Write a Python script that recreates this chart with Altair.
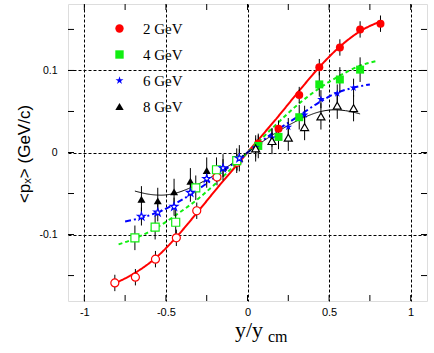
import altair as alt
import pandas as pd

# ---------------- data ----------------
series = ["2 GeV", "4 GeV", "6 GeV", "8 GeV"]
colors = ["#ff0000", "#11ee11", "#0000ff", "#000000"]
STAR = ("M0,-1L0.2245,-0.309L0.951,-0.309L0.363,0.118L0.588,0.809L0,0.382"
        "L-0.588,0.809L-0.363,0.118L-0.951,-0.309L-0.2245,-0.309Z")
shapes = ["circle", "square", STAR, "triangle-up"]

# 2 GeV (filled: measured side, open: reflected side)
x2_f = [0.066, 0.19, 0.317, 0.44, 0.566, 0.69, 0.815]
y2_f = [0.011, 0.029, 0.070, 0.104, 0.128, 0.150, 0.157]
x2_o = [-0.064, -0.187, -0.311, -0.436, -0.564, -0.687, -0.813]
y2_o = [-0.012, -0.030, -0.071, -0.104, -0.130, -0.152, -0.159]
e2 = 0.010

# 4 GeV
x4_f = [0.066, 0.19, 0.317, 0.44, 0.566, 0.69]
y4_f = [0.008, 0.019, 0.043, 0.083, 0.089, 0.101]
x4_o = [-0.066, -0.19, -0.317, -0.44, -0.566, -0.69]
y4_o = [-0.010, -0.021, -0.043, -0.085, -0.091, -0.104]
e4 = 0.015

# 6 GeV
x6_f = [0.05, 0.15, 0.25, 0.35, 0.45, 0.55, 0.65]
y6_f = [0.006, 0.018, 0.031, 0.046, 0.065, 0.072, 0.079]
x6_o = [-0.05, -0.15, -0.25, -0.35, -0.45, -0.55, -0.65]
y6_o = [-0.007, -0.019, -0.032, -0.049, -0.066, -0.073, -0.078]
e6 = 0.011

# 8 GeV (filled on the negative side)
x8_f = [-0.05, -0.15, -0.25, -0.35, -0.45, -0.55, -0.65]
y8_f = [-0.007, -0.018, -0.022, -0.035, -0.048, -0.059, -0.057]
x8_o = [0.05, 0.15, 0.25, 0.35, 0.45, 0.55, 0.65]
y8_o = [0.005, 0.014, 0.018, 0.031, 0.044, 0.057, 0.054]
e8 = 0.016

# fit curves
lx2 = [-0.82, -0.70, -0.56, -0.44, -0.32, -0.18, -0.06, 0, 0.06, 0.18, 0.32, 0.44, 0.56, 0.70, 0.82]
ly2 = [-0.160, -0.148, -0.128, -0.104, -0.076, -0.042, -0.014, 0, 0.014, 0.042, 0.076, 0.104, 0.128, 0.149, 0.160]
lx4 = [-0.79, -0.68, -0.56, -0.43, -0.30, -0.18, 0, 0.18, 0.30, 0.43, 0.56, 0.68, 0.80]
ly4 = [-0.112, -0.104, -0.092, -0.075, -0.056, -0.035, 0, 0.035, 0.057, 0.077, 0.093, 0.105, 0.112]
lx6 = [-0.75, -0.64, -0.54, -0.43, -0.31, -0.15, 0, 0.15, 0.31, 0.43, 0.55, 0.65, 0.75]
ly6 = [-0.084, -0.079, -0.072, -0.061, -0.046, -0.023, 0, 0.023, 0.044, 0.060, 0.073, 0.079, 0.083]
lx8 = [-0.69, -0.60, -0.53, -0.45, -0.35, -0.25, -0.12, 0, 0.12, 0.25, 0.35, 0.45, 0.53, 0.60, 0.69]
ly8 = [-0.047, -0.051, -0.052, -0.050, -0.043, -0.033, -0.017, 0, 0.017, 0.033, 0.043, 0.050, 0.052, 0.051, 0.047]

x_major = [-1, -0.5, 0, 0.5, 1]
y_major = [-0.1, 0, 0.1]
x_minor = [-1, -0.75, -0.5, -0.25, 0, 0.25, 0.5, 0.75, 1]
y_minor = [-0.15, -0.1, -0.05, 0, 0.05, 0.1, 0.15]

# ---------------- tables ----------------
def pts(name, xf, yf, xo, yo, err):
    rows = []
    for x, y in zip(xf, yf):
        rows.append(dict(series=name, x=x, y=y, lo=y - err, hi=y + err, filled=True))
    for x, y in zip(xo, yo):
        rows.append(dict(series=name, x=x, y=y, lo=y - err, hi=y + err, filled=False))
    return rows

points = pd.DataFrame(
    pts("2 GeV", x2_f, y2_f, x2_o, y2_o, e2)
    + pts("4 GeV", x4_f, y4_f, x4_o, y4_o, e4)
    + pts("6 GeV", x6_f, y6_f, x6_o, y6_o, e6)
    + pts("8 GeV", x8_f, y8_f, x8_o, y8_o, e8)
)
filled_pts = points[points.filled]
open_pts = points[~points.filled]

W, H = 359, 297
xs = alt.Scale(domain=[-1.1, 1.1], nice=False, zero=False)
ys = alt.Scale(domain=[-0.181, 0.181], nice=False, zero=False)
col_scale = alt.Scale(domain=series, range=colors)
shp_scale = alt.Scale(domain=series, range=shapes)

x_axis = alt.Axis(values=x_major, labelExpr="datum.value + ''", grid=True,
                  gridDash=[3, 2], gridColor="#000", gridWidth=1, ticks=False,
                  domain=False, labelFont="Liberation Sans", labelFontSize=11,
                  labelPadding=5, labelColor="#000", title=None)
y_axis = alt.Axis(values=y_major, labelExpr="datum.value + ''", grid=True,
                  gridDash=[3, 2], gridColor="#000", gridWidth=1, ticks=False,
                  domain=False, labelFont="Liberation Sans", labelFontSize=10.5,
                  labelPadding=11, labelColor="#000", title=None)

X = alt.X("x:Q", scale=xs, axis=x_axis)
Y = alt.Y("y:Q", scale=ys, axis=y_axis)

# fit lines
line_specs = [
    (lx2, ly2, colors[0], [1, 0], 2),
    (lx4, ly4, colors[1], [4, 3], 2),
    (lx6, ly6, colors[2], [6, 3, 2, 3], 2),
    (lx8, ly8, colors[3], [1, 0], 1),
]
lines = []
for lx, ly, c, dash, w in line_specs:
    df = pd.DataFrame({"x": lx, "y": ly})
    lines.append(
        alt.Chart(df).mark_line(color=c, strokeDash=dash, strokeWidth=w, interpolate="monotone")
        .encode(x=alt.X("x:Q", scale=xs), y=alt.Y("y:Q", scale=ys))
    )

errbars = alt.Chart(points).mark_rule(color="#000", strokeWidth=1).encode(
    x=alt.X("x:Q", scale=xs), y=alt.Y("lo:Q", scale=ys), y2="hi:Q"
)

filled_layer = alt.Chart(filled_pts).mark_point(filled=True, opacity=1, size=64).encode(
    x=X, y=Y,
    color=alt.Color("series:N", scale=col_scale,
                    legend=alt.Legend(orient="none", legendX=44, legendY=17, title=None,
                                      labelFont="Liberation Serif", labelFontSize=15,
                                      labelColor="#000", symbolSize=70, rowPadding=10,
                                      labelOffset=16, padding=0, symbolStrokeWidth=0)),
    shape=alt.Shape("series:N", scale=shp_scale),
)

open_layer = alt.Chart(open_pts).mark_point(filled=False, fill="white", fillOpacity=1,
                                             opacity=1, size=64, strokeWidth=1.2).encode(
    x=alt.X("x:Q", scale=xs), y=alt.Y("y:Q", scale=ys),
    color=alt.Color("series:N", scale=col_scale),
    shape=alt.Shape("series:N", scale=shp_scale),
)

# inward tick marks on all four sides
xt = pd.DataFrame({"t": x_minor})
yt = pd.DataFrame({"t": y_minor})
tk = 6
ticks_b = alt.Chart(xt).mark_rule(color="#000").encode(
    x=alt.X("t:Q", scale=xs), y=alt.value(H), y2=alt.value(H - tk))
ticks_t = alt.Chart(xt).mark_rule(color="#000").encode(
    x=alt.X("t:Q", scale=xs), y=alt.value(0), y2=alt.value(tk))
ticks_l = alt.Chart(yt).mark_rule(color="#000").encode(
    y=alt.Y("t:Q", scale=ys), x=alt.value(0), x2=alt.value(tk))
ticks_r = alt.Chart(yt).mark_rule(color="#000").encode(
    y=alt.Y("t:Q", scale=ys), x=alt.value(W), x2=alt.value(W - tk))

one = pd.DataFrame({"d": [0]})
ytitle = alt.Chart(one).mark_text(text="<pₓ> (GeV/c)", angle=270, font="Liberation Sans",
                                  fontSize=17, align="center", baseline="middle",
                                  color="#000").encode(x=alt.value(-43), y=alt.value(150))
xtitle1 = alt.Chart(one).mark_text(text="y/y", font="Liberation Serif", fontSize=22,
                                   align="left", baseline="alphabetic",
                                   color="#000").encode(x=alt.value(167), y=alt.value(333))
xtitle2 = alt.Chart(one).mark_text(text="cm", font="Liberation Serif", fontSize=16,
                                   align="left", baseline="alphabetic",
                                   color="#000").encode(x=alt.value(200), y=alt.value(338))

chart = alt.layer(
    *lines, errbars, filled_layer, open_layer,
    ticks_b, ticks_t, ticks_l, ticks_r, ytitle, xtitle1, xtitle2
).properties(
    width=W, height=H,
    padding={"left": 68, "top": 4, "right": 7, "bottom": 52},
    autosize=alt.AutoSizeParams(type="none"),
).configure_view(stroke="#000", strokeWidth=2).configure(background="white")

chart.save("out.html", embed_options={"renderer": "svg", "actions": False})
